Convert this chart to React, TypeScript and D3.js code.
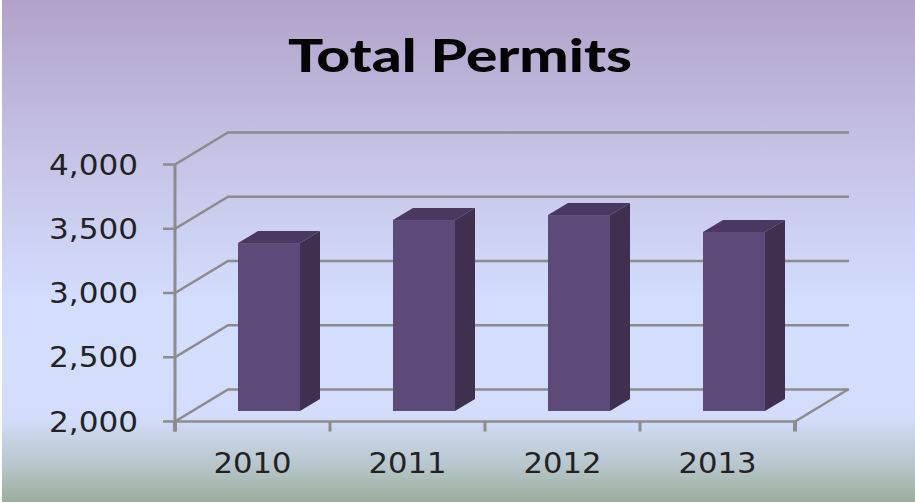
import React from "react";
import * as d3 from "d3";

const categories = ["2010", "2011", "2012", "2013"];
const permits = [3307, 3486, 3525, 3393];
const yTicks = [2000, 2500, 3000, 3500, 4000];
const chartTitle = "Total Permits";

const W = 915;
const H = 503;
const x0 = 175;
const x1 = 795;
const depthX = 53;
const depthY = -32;
const barDepthX = 20;
const barDepthY = -12;
const axisLabel = "DejaVu Sans, Verdana, sans-serif";

const y = d3.scaleLinear().domain([2000, 4000]).range([421.5, 164.5]);
const band = d3.scaleBand<string>().domain(categories).range([x0, x1]);
const fmt = d3.format(",");

export default function App() {
  const grid = "#8c8c8c";
  const barBottom = y(2000) - 10.5;
  const barW = 62;
  const barY = d3.scaleLinear().domain([2000, 4000]).range([barBottom, barBottom - 257]);
  return (
    <svg width={W} height={H} viewBox={`0 0 ${W} ${H}`} style={{ position: "absolute", left: 0, top: 0 }}>
      <defs>
        <linearGradient id="bg" x1="0" y1="0" x2="0" y2="1">
          <stop offset="0" stopColor="#b2a2c9" />
          <stop offset="0.3" stopColor="#c5c2e5" />
          <stop offset="0.6" stopColor="#d3ddfd" />
          <stop offset="0.83" stopColor="#d3ddfb" />
          <stop offset="0.92" stopColor="#b9c8cf" />
          <stop offset="1" stopColor="#9bae9b" />
        </linearGradient>
      </defs>
      <rect x={0} y={0} width={W} height={H} fill="#fff" />
      <rect x={2} y={0} width={W - 2} height={H - 1} fill="url(#bg)" />
      <text x={460} y={72} textAnchor="middle" textLength={344} lengthAdjust="spacingAndGlyphs"
        fontFamily="Lato, Carlito, sans-serif" fontWeight={900} fontSize={46} fill="#050505">{chartTitle}</text>

      {yTicks.map((t) => {
        const ty = y(t);
        return (
          <g key={t}>
            <path d={`M${x0 - 12},${ty}H${x0}L${x0 + depthX},${ty + depthY}H${x1 + depthX + 1}`}
              fill="none" stroke={grid} strokeWidth={2.6} />
            <text x={138} y={ty + 10} textAnchor="end" textLength={89} lengthAdjust="spacingAndGlyphs"
              fontFamily={axisLabel} fontSize={28} fill="#222">{fmt(t)}</text>
          </g>
        );
      })}
      <line x1={x0} x2={x0} y1={y(4000)} y2={y(2000) + 10} stroke={grid} strokeWidth={3} />
      <path d={`M${x0},${y(2000)}H${x1}L${x1 + depthX},${y(2000) + depthY}`} fill="none" stroke={grid} strokeWidth={2.4} />
      {[...categories.map((c) => band(c)!), x1].map((tx, i) => (
        <line key={tx} x1={tx} x2={tx} y1={y(2000)} y2={y(2000) + 10} stroke={grid} strokeWidth={i === 0 || i === 4 ? 4 : 3} />
      ))}

      {categories.map((c, i) => {
        const bx = band(c)! + (band.bandwidth() - barW) / 2 + 16.5;
        const top = barY(permits[i]);
        return (
          <g key={c}>
            <path d={`M${bx + barW},${top}l${barDepthX},${barDepthY}V${barBottom + barDepthY}l${-barDepthX},${-barDepthY}Z`} fill="#3f3050" />
            <path d={`M${bx},${top}l${barDepthX},${barDepthY}h${barW}l${-barDepthX},${-barDepthY}Z`} fill="#4b3860" />
            <rect x={bx} y={top} width={barW} height={barBottom - top} fill="#5e4a78" />
            <text x={band(c)! + band.bandwidth() / 2} y={473} textAnchor="middle" textLength={78} lengthAdjust="spacingAndGlyphs"
              fontFamily={axisLabel} fontSize={28} fill="#222">{c}</text>
          </g>
        );
      })}
    </svg>
  );
}
